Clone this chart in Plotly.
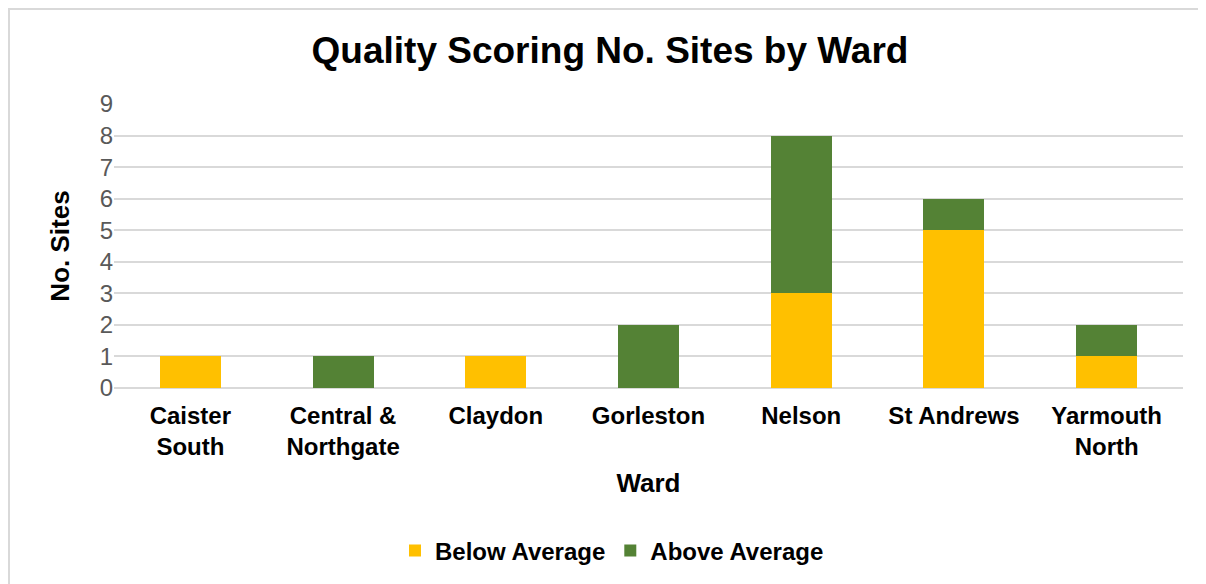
import plotly.graph_objects as go

wards = ["Caister<br>South", "Central &<br>Northgate", "Claydon", "Gorleston", "Nelson", "St Andrews", "Yarmouth<br>North"]
below_avg = [1, 0, 1, 0, 3, 5, 1]
above_avg = [0, 1, 0, 2, 5, 1, 1]

OFF = 8  # page body margin
W, H = 1206, 584
ml, mr, mt, mb = 114 - OFF, 23 + OFF, 104 - OFF, 196 + OFF
pw, ph = W - ml - mr, H - mt - mb

def px_x(x):
    return (x - OFF - ml) / pw

def px_y(y):
    return (H - mb - (y - OFF)) / ph

fig = go.Figure()
fig.add_trace(go.Bar(name="<b>Below Average</b>", x=wards, y=below_avg, marker=dict(color="#FFC000", line=dict(width=0))))
fig.add_trace(go.Bar(name="<b>Above Average</b>", x=wards, y=above_avg, marker=dict(color="#548235", line=dict(width=0))))

fig.update_layout(
    width=W, height=H,
    barmode="stack", bargap=0.6,
    margin=dict(l=ml, r=mr, t=mt, b=mb),
    paper_bgcolor="white", plot_bgcolor="white",
    font=dict(family="Liberation Sans, Arial, sans-serif", color="#000000"),
    title=dict(text="<b>Quality Scoring No. Sites by Ward</b>", x=(610 - OFF) / W, xanchor="center",
               y=1 - (50 - OFF) / H, yanchor="middle", font=dict(size=37, color="#000000")),
    xaxis=dict(title=dict(text="<b>Ward</b>", font=dict(size=26, color="#000000"), standoff=14),
               tickfont=dict(size=24, color="#000000"), showgrid=False, showline=False,
               ticks="", tickprefix="<b>", ticksuffix="</b>", ticklabelstandoff=11),
    yaxis=dict(title=dict(text="<b>No. Sites</b>", font=dict(size=26, color="#000000"), standoff=22),
               range=[0, 9], dtick=1, tickfont=dict(size=24, color="#595959"),
               showgrid=True, gridcolor="#d9d9d9", gridwidth=1.5,
               zeroline=True, zerolinecolor="#d9d9d9", zerolinewidth=1.5, ticks="", ticklen=0),
    legend=dict(orientation="h", x=px_x(612), xanchor="center", y=px_y(551), yanchor="middle",
                font=dict(size=24, color="#000000"), traceorder="normal", itemwidth=30),
    showlegend=True,
    shapes=[dict(type="rect", xref="paper", yref="paper",
                 x0=px_x(9), x1=px_x(1225), y0=px_y(610), y1=px_y(9),
                 line=dict(color="#d9d9d9", width=2), fillcolor="rgba(0,0,0,0)", layer="below")],
)

fig.write_html("out.html")
